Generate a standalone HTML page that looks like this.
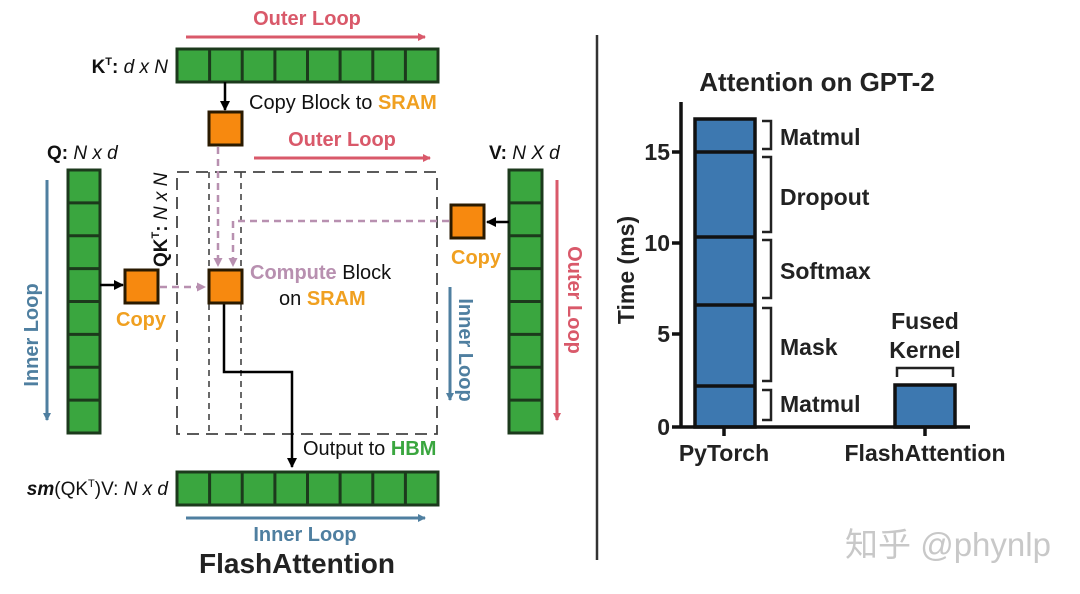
<!DOCTYPE html>
<html><head><meta charset="utf-8"><style>
html,body{margin:0;padding:0;background:#fff;}
svg{display:block;font-family:"Liberation Sans","Noto Sans CJK SC",sans-serif;}
.b{font-weight:bold}
</style></head><body>
<svg width="1080" height="594" viewBox="0 0 1080 594" xmlns="http://www.w3.org/2000/svg">
<defs>
<marker id="ar" markerWidth="8" markerHeight="8" refX="7" refY="4" orient="auto" markerUnits="userSpaceOnUse"><path d="M0,0 L8,4 L0,8 z" fill="#d9596a"/></marker>
<marker id="ab" markerWidth="8" markerHeight="8" refX="7" refY="4" orient="auto" markerUnits="userSpaceOnUse"><path d="M0,0 L8,4 L0,8 z" fill="#4f7fa0"/></marker>
<marker id="ak" markerWidth="10" markerHeight="10" refX="9" refY="5" orient="auto" markerUnits="userSpaceOnUse"><path d="M0,0 L10,5 L0,10 z" fill="#000"/></marker>
<marker id="ap" markerWidth="9" markerHeight="9" refX="8" refY="4.5" orient="auto" markerUnits="userSpaceOnUse"><path d="M0,0 L9,4.5 L0,9 z" fill="#b890b0"/></marker>
</defs>
<g fill="#3aa63f" stroke="#1c3a1c" stroke-width="3">
<rect x="177" y="49" width="261" height="33"/>
<rect x="177" y="472" width="261" height="33"/>
<rect x="68" y="170" width="32" height="263"/>
<rect x="509" y="170" width="33" height="263"/>
</g>
<g stroke="#1c3a1c" stroke-width="3">
<path d="M209.6,49v33M242.2,49v33M274.9,49v33M307.5,49v33M340.1,49v33M372.8,49v33M405.4,49v33"/>
<path d="M209.6,472v33M242.2,472v33M274.9,472v33M307.5,472v33M340.1,472v33M372.8,472v33M405.4,472v33"/>
<path d="M68,202.9h32M68,235.8h32M68,268.6h32M68,301.5h32M68,334.4h32M68,367.2h32M68,400.1h32"/>
<path d="M509,202.9h33M509,235.8h33M509,268.6h33M509,301.5h33M509,334.4h33M509,367.2h33M509,400.1h33"/>
</g>
<g fill="none" stroke="#444" stroke-width="1.8" stroke-dasharray="12,7">
<rect x="177" y="172" width="260" height="262"/>
</g>
<g fill="none" stroke="#444" stroke-width="1.6" stroke-dasharray="6,5">
<path d="M209,172V434M241,172V434"/>
</g>
<g fill="none" stroke="#b890b0" stroke-width="2.5" stroke-dasharray="7,5">
<path d="M218,147V266" marker-end="url(#ap)"/>
<path d="M449,221H233V266" marker-end="url(#ap)"/>
<path d="M160,287H205" marker-end="url(#ap)"/>
</g>
<g fill="none" stroke="#000" stroke-width="2.5">
<path d="M225,82V110" marker-end="url(#ak)"/>
<path d="M100,285H123" marker-end="url(#ak)"/>
<path d="M509,222H487" marker-end="url(#ak)"/>
<path d="M224,304V372H292V467" marker-end="url(#ak)"/>
</g>
<g fill="#f7890f" stroke="#2a1a00" stroke-width="3">
<rect x="209" y="112" width="33" height="33"/>
<rect x="125" y="270" width="33" height="33"/>
<rect x="209" y="270" width="33" height="33"/>
<rect x="451" y="205" width="33" height="33"/>
</g>
<g fill="none" stroke-width="3">
<path d="M186,37H425" stroke="#d9596a" marker-end="url(#ar)"/>
<path d="M254,158H430" stroke="#d9596a" marker-end="url(#ar)"/>
<path d="M557,180V420" stroke="#d9596a" marker-end="url(#ar)"/>
<path d="M47,180V420" stroke="#4f7fa0" marker-end="url(#ab)"/>
<path d="M450,287V400" stroke="#4f7fa0" marker-end="url(#ab)"/>
<path d="M186,518H425" stroke="#4f7fa0" marker-end="url(#ab)"/>
</g>
<g class="b" font-size="20">
<text x="307" y="25" text-anchor="middle" fill="#d9596a">Outer Loop</text>
<text x="342" y="146" text-anchor="middle" fill="#d9596a">Outer Loop</text>
<text x="305" y="541" text-anchor="middle" fill="#4f7fa0">Inner Loop</text>
<text transform="translate(38,335) rotate(-90)" text-anchor="middle" fill="#4f7fa0">Inner Loop</text>
<text transform="translate(459,350) rotate(90)" text-anchor="middle" fill="#4f7fa0">Inner Loop</text>
<text transform="translate(568,300) rotate(90)" text-anchor="middle" fill="#d9596a">Outer Loop</text>
<text x="141" y="326" text-anchor="middle" fill="#f0a020">Copy</text>
<text x="476" y="264" text-anchor="middle" fill="#f0a020">Copy</text>
</g>
<g font-size="20" fill="#111">
<text x="249" y="109">Copy Block to <tspan class="b" fill="#f0a020">SRAM</tspan></text>
<text x="250" y="279"><tspan class="b" fill="#b890b0">Compute</tspan> Block</text>
<text x="279" y="305">on <tspan class="b" fill="#f0a020">SRAM</tspan></text>
<text x="303" y="455">Output to <tspan class="b" fill="#3aa63f">HBM</tspan></text>
</g>
<g font-size="19" fill="#111">
<text x="168" y="73" text-anchor="end"><tspan class="b">K<tspan font-size="11" dy="-8">T</tspan><tspan dy="8">:</tspan></tspan> <tspan font-style="italic">d x N</tspan></text>
<text x="47" y="159"><tspan class="b">Q:</tspan> <tspan font-style="italic">N x d</tspan></text>
<text x="489" y="159"><tspan class="b">V:</tspan> <tspan font-style="italic">N X d</tspan></text>
<text x="168" y="495" text-anchor="end"><tspan class="b" font-style="italic">sm</tspan>(QK<tspan font-size="11" dy="-8">T</tspan><tspan dy="8">)V:</tspan> <tspan font-style="italic">N x d</tspan></text>
<text transform="translate(167,267) rotate(-90)"><tspan class="b">QK<tspan font-size="11" dy="-8">T</tspan><tspan dy="8">:</tspan></tspan> <tspan font-style="italic">N x N</tspan></text>
</g>
<text x="297" y="573" text-anchor="middle" class="b" font-size="28" fill="#222">FlashAttention</text>
<path d="M597,35V560" stroke="#333" stroke-width="2.5"/>
<text x="817" y="91" text-anchor="middle" class="b" font-size="26" fill="#222">Attention on GPT-2</text>
<g fill="#3d78b0" stroke="#111" stroke-width="3.5">
<rect x="695" y="119" width="60" height="308"/>
<rect x="895" y="385" width="60" height="42"/>
</g>
<path d="M695,152H755M695,237H755M695,305H755M695,386H755" stroke="#111" stroke-width="3.5"/>
<path d="M681,102V428M672,427H970M672,152H681M672,243H681M672,334H681M724,427V436M925,427V436" stroke="#111" stroke-width="3.5" fill="none"/>
<g fill="none" stroke="#222" stroke-width="2.5">
<path d="M762,121H771V149H762M762,157H771V232H762M762,240H771V298H762M762,308H771V381H762M762,390H771V420H762"/>
<path d="M897,377V368H953V377"/>
</g>
<g class="b" font-size="23" fill="#222">
<text x="670" y="160" text-anchor="end">15</text>
<text x="670" y="251" text-anchor="end">10</text>
<text x="670" y="342" text-anchor="end">5</text>
<text x="670" y="435" text-anchor="end">0</text>
<text x="780" y="145">Matmul</text>
<text x="780" y="205">Dropout</text>
<text x="780" y="279">Softmax</text>
<text x="780" y="355">Mask</text>
<text x="780" y="412">Matmul</text>
<text x="925" y="329" text-anchor="middle">Fused</text>
<text x="925" y="358" text-anchor="middle">Kernel</text>
<text x="724" y="461" text-anchor="middle">PyTorch</text>
<text x="925" y="461" text-anchor="middle">FlashAttention</text>
<text transform="translate(634,270) rotate(-90)" text-anchor="middle">Time (ms)</text>
</g>
<text x="948" y="556" text-anchor="middle" font-size="33" fill="#c8c8c8">知乎 @phynlp</text>
</svg>
</body></html>
